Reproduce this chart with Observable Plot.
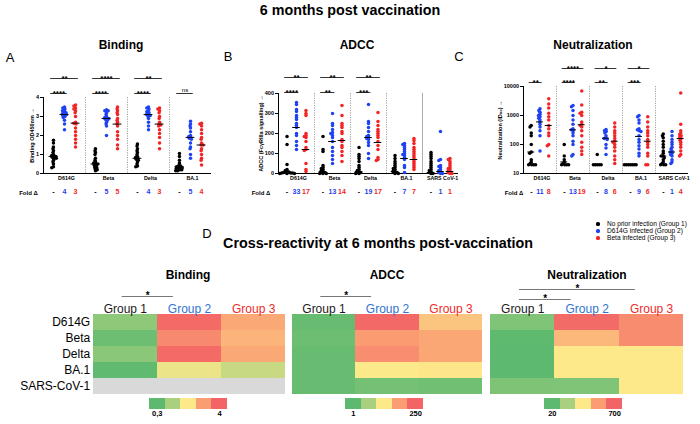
<!DOCTYPE html>
<html><head><meta charset="utf-8">
<script src="https://cdn.jsdelivr.net/npm/d3@7"></script>
<script src="https://cdn.jsdelivr.net/npm/@observablehq/plot@0.6"></script>
<style>
body{margin:0;background:#fff;}
#root{position:relative;width:700px;height:424px;overflow:hidden;background:#fff;font-family:'Liberation Sans',Arial,sans-serif;}
.t{position:absolute;white-space:nowrap;line-height:1;transform:translate(-50%,-50%);color:#000;}
</style></head><body><div id="root"></div>
<script>
// ---------------- DATA ----------------
const groupNames = ["Group 1", "Group 2", "Group 3"];
const legendNames = ["No prior infection (Group 1)", "D614G infected (Group 2)", "Beta infected (Group 3)"];

// Binding (OD450nm)
const bindVariants = ["D614G", "Beta", "Delta", "BA.1"];
const bindG1 = [
  [1.75,1.6,1.4,1.3,1.2,1.1,1.0,0.95,0.9,0.9,0.85,0.8,0.8,0.7,0.6,0.5,0.35,0.3],
  [1.3,1.2,1.1,1.0,0.8,0.7,0.6,0.55,0.5,0.5,0.45,0.4,0.35,0.3,0.25,0.2,0.15],
  [1.55,1.45,1.3,1.2,1.1,1.0,0.9,0.85,0.8,0.75,0.7,0.6,0.5,0.4,0.35],
  [1.05,0.9,0.7,0.55,0.45,0.4,0.35,0.35,0.3,0.3,0.25,0.25,0.2,0.2,0.15,0.15]
];
const bindG2 = [
  [3.5,3.45,3.4,3.3,3.3,3.2,3.2,3.15,3.1,3.1,3.05,3.0,2.95,2.8,2.6,2.3],
  [3.35,3.3,3.3,3.2,3.1,3.0,2.95,2.9,2.9,2.85,2.8,2.7,2.6,2.5,2.0],
  [3.5,3.45,3.4,3.3,3.25,3.2,3.1,3.1,3.05,3.0,2.9,2.7,2.5,2.3],
  [2.75,2.6,2.5,2.4,2.2,2.0,1.95,1.9,1.85,1.8,1.6,1.4,1.3,1.0,0.8]
];
const bindG3 = [
  [3.6,3.55,3.45,3.4,3.3,3.2,3.0,2.7,2.65,2.6,2.4,2.2,2.0,1.8,1.6,1.4],
  [3.5,3.4,3.3,3.2,3.1,2.9,2.8,2.7,2.6,2.5,2.2,2.0,1.8,1.5,1.3],
  [3.45,3.4,3.3,3.2,3.0,2.9,2.7,2.6,2.55,2.5,2.3,2.1,1.9,1.6,1.3],
  [2.65,2.6,2.5,2.3,2.1,1.9,1.8,1.6,1.5,1.5,1.3,1.2,1.0,0.8,0.7,0.45]
];
const bindMedian = [[0.9,0.5,0.8,0.35],[3.1,2.9,3.1,1.9],[2.65,2.6,2.6,1.5]];
const bindFold = [["-","-","-","-"],["4","5","4","5"],["3","5","3","4"]];
const bindSig12 = ["****","****","****","ns"];
const bindSig13 = ["**","****","**",""];
const bindTicks = [0,1,2,3,4];

// ADCC (FcγRIIIa signalling)
const adccVariants = ["D614G", "Beta", "Delta", "BA.1", "SARS CoV-1"];
const adccG1 = [
  [185,145,45,20,15,10,8,5,5,3,2,2,0,0,0],
  [185,120,110,40,30,25,20,15,10,5,5,0,0,0],
  [130,95,85,75,60,40,30,20,15,10,5,5,0,0],
  [90,75,60,50,40,30,25,20,15,10,5,5,0,0],
  [105,95,85,75,60,50,40,30,20,15,10,5,0,0]
];
const adccG2 = [
  [355,345,320,310,290,280,270,250,240,230,200,190,160,140,120],
  [300,250,240,220,205,200,190,180,160,130,110,90,70,50],
  [345,260,250,230,210,190,185,180,175,170,155,140,100,75],
  [150,145,140,130,120,110,100,95,90,80,70,40,30,5],
  [210,70,65,40,35,30,20,15,10,5,0,0]
];
const adccG3 = [
  [315,300,290,200,190,185,180,160,130,120,115,50,20,10],
  [340,290,250,240,230,210,200,170,160,140,130,110,90,60],
  [305,260,240,220,210,200,190,180,160,140,120,80,70,65],
  [175,165,150,130,120,110,100,90,80,70,60,50,40,30,20],
  [75,70,60,50,40,30,25,20,15,10,5,0,0]
];
const adccMedian = [[5,10,10,10,5],[230,160,180,75,10],[120,165,155,70,10]];
const adccFold = [["-","-","-","-","-"],["33","13","19","7","1"],["17","14","17","7","1"]];
const adccSig12 = ["****","**","***","",""];
const adccSig13 = ["**","**","**","",""];
const adccTicks = [0,100,200,300,400];

// Neutralization (ID50)
const neutVariants = ["D614G", "Beta", "Delta", "BA.1", "SARS CoV-1"];
const neutG1 = [
  [450,400,250,200,100,55,50,30,25,22,20,20,20,20],
  [100,40,30,25,22,20,20,20,20],
  [45,20,20,20,20,20],
  [20,20,20,20,20,20,20],
  [230,200,170,130,100,80,60,50,40,40,35,30,25,22,20,20,20]
];
const neutG2 = [
  [1700,1500,1300,1100,1000,900,800,700,600,500,400,300,200,60],
  [2200,2000,1500,1000,700,500,350,320,300,250,200,130,100,45,40],
  [330,300,280,250,200,170,160,150,100,75,45],
  [1000,900,700,550,350,320,300,280,200,150,120,90,70,50,40],
  [280,200,150,120,100,80,70,60,55,50,45,40,30,25,22]
];
const neutG3 = [
  [3800,2500,1800,1200,900,700,450,350,250,200,100,90,40],
  [7000,2300,1300,1200,1000,600,500,450,400,300,200,120,80,60,45],
  [550,400,300,250,200,160,130,120,100,80,60,40,30,22],
  [900,600,400,300,250,200,150,120,100,80,50,40,20,20],
  [6000,500,300,250,220,200,180,160,140,120,100,80,60,45,40]
];
const neutMedian = [[55,25,20,20,40],[600,320,165,190,55],[450,480,130,130,160]];
const neutFold = [["-","-","-","-","-"],["11","13","8","9","1"],["8","19","6","6","4"]];
const neutSig12 = ["**","****","**","***",""];
const neutSig13 = ["","****","*","*",""];
const neutTicks = [10,100,1000,10000];

// Heatmaps (cross-reactivity at 6 months)
const hmRows = ["D614G", "Beta", "Delta", "BA.1", "SARS-CoV-1"];
const hmBindValues = [[0.9,0.5,0.85,0.35,null],[3.9,3.4,3.9,1.95,null],[2.94,2.8,2.94,1.55,null]];
const hmAdccValues = [[10,15,10,10,10],[245,190,205,125,20],[155,180,180,128,18]];
const hmNeutValues = [[100,25,22,20,95],[680,470,360,360,100],[580,580,360,360,360]];
const hmBindDomain = [0.3, 4];
const hmAdccDomain = [1, 250];
const hmNeutDomain = [20, 700];
const hmBindLabels = ["0,3", "4"];
const hmAdccLabels = ["1", "250"];
const hmNeutLabels = ["20", "700"];
const hmBindSig = [{from:0, to:1, label:"*"}];
const hmAdccSig = [{from:0, to:1, label:"*"}];
const hmNeutSig = [{from:0, to:2, label:"*"}, {from:0, to:1, label:"*"}];
const legendColors = ["#5cb96f", "#a9d07f", "#fde98a", "#fa9d72", "#f26466"];

// ---------------- STYLE ----------------
const FONT = "'Liberation Sans', Arial, sans-serif";
const dotColors = ["#000000", "#1f43f2", "#f22424"];
const foldColors = ["#000000", "#1f3ff0", "#f01f1f"];
const headerColors = ["#1a1a1a", "#2f74d0", "#f02a2a"];
const root = document.getElementById("root");

function text(str, x, y, css) {
  const d = document.createElement("div");
  d.className = "t";
  d.textContent = str;
  d.style.left = x + "px";
  d.style.top = y + "px";
  d.style.cssText += css || "";
  root.appendChild(d);
  return d;
}
function put(node, left, top) {
  node.style.position = "absolute";
  node.style.left = left + "px";
  node.style.top = top + "px";
  root.appendChild(node);
}

function scatter(o) {
  const n = o.variants.length;
  const fw = (o.width - o.mL - o.mR) / n;
  const XL = -1.9, XH = 1.9;
  const step = fw / (XH - XL);
  const pts = [], meds = [], folds = [];
  o.variants.forEach((v, i) => {
    o.groups.forEach((arr, g) => arr[i].forEach(val => pts.push({variant: v, g, val})));
    o.median.forEach((m, g) => meds.push({variant: v, g, m: m[i]}));
    o.fold.forEach((f, g) => folds.push({variant: v, g, t: f[i]}));
  });
  const s12 = o.variants.map((v, i) => ({variant: v, label: o.sig12[i]})).filter(d => d.label);
  const s13 = o.variants.map((v, i) => ({variant: v, label: o.sig13[i]})).filter(d => d.label);
  const yBot = o.y.domain[0], yTop = o.y.domain[1];
  const marks = [
    Plot.ruleY([yBot], {stroke: "#000", strokeWidth: 1}),
    ...o.variants.slice(1).map((v, i) => Plot.ruleX([v], {
      fx: d => d, x: () => XL, stroke: o.dividers[i] === "solid" ? "#9a9a9a" : "#8a8a8a",
      strokeWidth: 0.8, strokeDasharray: o.dividers[i] === "solid" ? "none" : "1.2,1.2"
    })),
    ...[0, 1, 2].map(g => Plot.dot(pts.filter(d => d.g === g),
      Plot.dodgeX({anchor: "middle", padding: -1.55},
        {fx: "variant", y: "val", r: 1.75, fill: dotColors[g], stroke: "none", dx: (g - 1) * step}))),
    Plot.ruleY(meds, {fx: "variant", x1: d => d.g - 1.4, x2: d => d.g - 0.6, y: "m", stroke: "#000", strokeWidth: 1}),
    Plot.ruleY(s12, {fx: "variant", x1: () => -1.25, x2: () => 0.25, y: () => yTop, dy: o.sigDy[0], stroke: "#000", strokeWidth: 0.8}),
    Plot.ruleY(s13, {fx: "variant", x1: () => -1.25, x2: () => 1.25, y: () => yTop, dy: o.sigDy[1], stroke: "#000", strokeWidth: 0.8}),
    Plot.text(s12.filter(d => d.label !== "ns"), {fx: "variant", x: () => -0.5, y: () => yTop, dy: o.sigDy[0], text: "label", fontSize: 8, fontWeight: "bold"}),
    Plot.text(s12.filter(d => d.label === "ns"), {fx: "variant", x: () => -0.5, y: () => yTop, dy: o.sigDy[0] - 3.5, text: "label", fontSize: 6, fontWeight: "normal"}),
    Plot.text(s13, {fx: "variant", x: () => 0, y: () => yTop, dy: o.sigDy[1], text: "label", fontSize: 8, fontWeight: "bold"}),
    Plot.text(o.variants, {fx: d => d, frameAnchor: "bottom", dy: 6.5, dx: 2, text: d => d, fontSize: 5.3, fontWeight: "bold"}),
    ...[0, 1, 2].map(g => Plot.text(folds.filter(d => d.g === g), {
      fx: "variant", x: d => d.g - 1, frameAnchor: "bottom", dy: 20, text: "t",
      fill: foldColors[g], fontSize: 7, fontWeight: "bold"
    }))
  ];
  return Plot.plot({
    width: o.width, height: o.height,
    marginLeft: o.mL, marginRight: o.mR, marginTop: o.mT, marginBottom: o.mB,
    fx: {domain: o.variants, padding: 0, axis: null},
    x: {domain: [XL, XH], axis: null},
    y: Object.assign({line: true, tickSize: 3, tickPadding: 1.5, labelAnchor: "center", tickFormat: d => String(d)}, o.y),
    style: {fontFamily: FONT, fontSize: "5.5px", fontWeight: "bold", overflow: "visible", background: "transparent"},
    marks
  });
}

function heatmap(o) {
  const cells = [];
  o.values.forEach((col, j) => col.forEach((v, i) => cells.push({row: i, col: j, v})));
  const stops = d3.range(5).map(k => o.domain[0] + (o.domain[1] - o.domain[0]) * k / 4);
  const marks = [
    Plot.rect(cells.filter(d => d.v == null), {x1: "col", x2: d => d.col + 1, y1: "row", y2: d => d.row + 1, fill: "#d9d9d9", shapeRendering: "crispEdges"}),
    Plot.rect(cells.filter(d => d.v != null), {x1: "col", x2: d => d.col + 1, y1: "row", y2: d => d.row + 1, fill: "v", shapeRendering: "crispEdges"}),
    ...groupNames.map((gname, j) => Plot.text([gname], {x: () => j + 0.5, frameAnchor: "top", dy: -10, text: d => d, fill: headerColors[j], fontSize: 12})),
    ...o.sig.map((s, k) => Plot.ruleY([s], {x1: d => d.from + 0.45, x2: d => d.to + 0.25, y: () => 0, dy: o.sigDy[k], stroke: "#777", strokeWidth: 1})),
    ...o.sig.map((s, k) => Plot.text([s], {x: d => (d.from + d.to + 0.7) / 2, y: () => 0, dy: o.sigDy[k] - 1, text: d => d.label, fontSize: 10, fontWeight: "bold"}))
  ];
  if (o.rowLabels) marks.push(Plot.text(hmRows, {x: () => 0, y: (d, i) => i + 0.5, text: d => d, textAnchor: "end", dx: -3, fontSize: 12}));
  return Plot.plot({
    width: o.width, height: o.height,
    marginLeft: o.mL, marginRight: o.mR, marginTop: o.mT, marginBottom: o.mB,
    x: {domain: [0, 3], axis: null},
    y: {domain: [0, hmRows.length], reverse: true, axis: null},
    color: {type: "linear", domain: stops, range: legendColors, interpolate: "rgb"},
    style: {fontFamily: FONT, overflow: "visible", background: "transparent"},
    marks
  });
}

function colorLegend(labels) {
  return Plot.plot({
    width: 78, height: 22, marginLeft: 0, marginRight: 0, marginTop: 0, marginBottom: 11,
    x: {domain: [0, 5], axis: null},
    y: {domain: [0, 1], axis: null},
    color: {type: "identity"},
    style: {fontFamily: FONT, overflow: "visible", background: "transparent"},
    marks: [
      Plot.rect(legendColors, {x1: (d, i) => i, x2: (d, i) => i + 1, y1: () => 0, y2: () => 1, fill: d => d, shapeRendering: "crispEdges"}),
      Plot.text(labels, {x: (d, i) => i === 0 ? 0.5 : 4.5, frameAnchor: "bottom", dy: 6.5, text: d => d, fontSize: 7.5, fontWeight: "bold"})
    ]
  });
}

// ---------------- LAYOUT ----------------
text("6 months post vaccination", 350, 10, "font-size:14.3px;font-weight:bold;");
text("A", 10, 57, "font-size:13px;");
text("B", 228, 56, "font-size:13px;");
text("C", 459, 56, "font-size:13px;");
text("Binding", 121, 45, "font-size:12px;font-weight:bold;");
text("ADCC", 357, 45, "font-size:12px;font-weight:bold;");
text("Neutralization", 593, 45, "font-size:12px;font-weight:bold;");

put(scatter({
  variants: bindVariants, groups: [bindG1, bindG2, bindG3], median: bindMedian, fold: bindFold,
  sig12: bindSig12, sig13: bindSig13, sigDy: [-4, -19], dividers: ["dot", "dot", "dot"],
  y: {domain: [0, 4], ticks: bindTicks, label: "Binding OD450nm", labelOffset: 13},
  width: 225, height: 143, mL: 43, mR: 14, mT: 37, mB: 30
}), 0, 60);

put(scatter({
  variants: adccVariants, groups: [adccG1, adccG2, adccG3], median: adccMedian, fold: adccFold,
  sig12: adccSig12, sig13: adccSig13, sigDy: [-1, -16], dividers: ["dot", "dot", "dot", "solid"],
  y: {domain: [0, 400], ticks: adccTicks, label: "ADCC (FcγRIIIa signalling)", labelOffset: 19},
  width: 240, height: 143, mL: 53, mR: 7, mT: 33, mB: 30
}), 225, 60);

put(scatter({
  variants: neutVariants, groups: [neutG1, neutG2, neutG3], median: neutMedian, fold: neutFold,
  sig12: neutSig12, sig13: neutSig13, sigDy: [-4, -18], dividers: ["dot", "dot", "dot", "dot"],
  y: {type: "log", domain: [10, 10000], ticks: neutTicks, label: "Neutralization (ID₅₀)", labelOffset: 25},
  width: 235, height: 143, mL: 57, mR: 12, mT: 26, mB: 30
}), 465, 60);

text("Fold Δ", 28.5, 193, "font-size:6px;font-weight:bold;");
text("Fold Δ", 261, 193, "font-size:6px;font-weight:bold;");
text("Fold Δ", 514, 193, "font-size:6px;font-weight:bold;");

// group legend
legendNames.forEach((name, i) => {
  const y = 224 + i * 7;
  const b = document.createElement("div");
  b.style.cssText = `position:absolute;left:${598 - 1.6}px;top:${y - 1.6}px;width:3.2px;height:3.2px;border-radius:50%;background:${dotColors[i]};`;
  root.appendChild(b);
  const t = text(name, 607, y, "font-size:6.6px;");
  t.style.transform = "translate(0,-50%)";
});

text("D", 207, 233, "font-size:13px;");
text("Cross-reactivity at 6 months post-vaccination", 378, 243, "font-size:14.3px;font-weight:bold;");
text("Binding", 188, 275, "font-size:12px;font-weight:bold;");
text("ADCC", 387, 275, "font-size:12px;font-weight:bold;");
text("Neutralization", 587, 275, "font-size:12px;font-weight:bold;");

put(heatmap({values: hmBindValues, domain: hmBindDomain, sig: hmBindSig, sigDy: [-18], rowLabels: true,
  width: 290, height: 145, mL: 92.7, mR: 4.7, mT: 59, mB: 6.3}), 0, 255);
put(heatmap({values: hmAdccValues, domain: hmAdccDomain, sig: hmAdccSig, sigDy: [-18], rowLabels: false,
  width: 197, height: 145, mL: 1.7, mR: 4.7, mT: 59, mB: 6.3}), 290, 255);
put(heatmap({values: hmNeutValues, domain: hmNeutDomain, sig: hmNeutSig, sigDy: [-25, -15], rowLabels: false,
  width: 200, height: 145, mL: 2, mR: 4.7, mT: 59, mB: 6.3}), 488, 255);

put(colorLegend(hmBindLabels), 149, 397.5);
put(colorLegend(hmAdccLabels), 345, 397.5);
put(colorLegend(hmNeutLabels), 543.5, 397.5);
</script></body></html>
